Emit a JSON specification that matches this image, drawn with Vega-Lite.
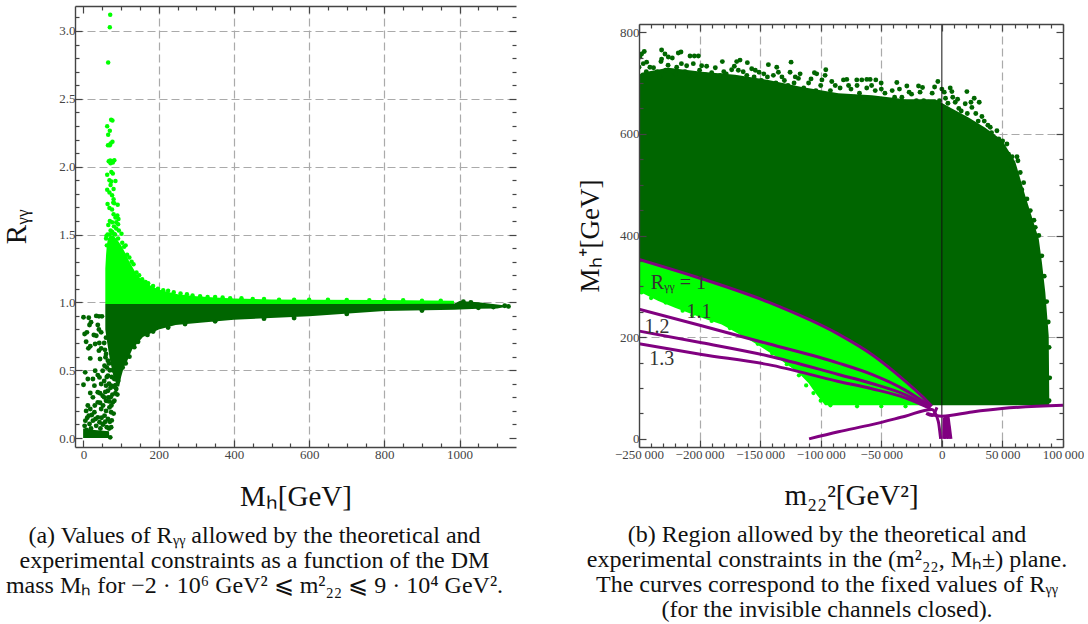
{
"$schema":"https://vega.github.io/schema/vega-lite/v6.json",
"background":"white",
"padding":{"left":2,"top":5,"right":0,"bottom":0},
"spacing":59,
"config":{"view":{"stroke":null},"font":"Liberation Serif","axis":{"labelFont":"Liberation Serif","titleFont":"Liberation Serif","titleFontWeight":"normal","labelFontSize":13,"labelColor":"#444","tickColor":"#444","domainColor":"#444","domainWidth":1.4,"tickWidth":1.2,"labelPadding":7,"labelOverlap":false,"labelBound":false,"labelFlush":false},"title":{"font":"Liberation Serif","fontWeight":"normal","fontSize":24,"color":"#111"}},
"datasets":{
"leftArea":[
{"g":"bright","mass":58,"r":0.987,"r2":1.25},{"g":"bright","mass":60,"r":0.987,"r2":1.35},{"g":"bright","mass":62,"r":0.987,"r2":1.42},{"g":"bright","mass":65,"r":0.987,"r2":1.47},{"g":"bright","mass":70,"r":0.987,"r2":1.49},{"g":"bright","mass":80,"r":0.987,"r2":1.49},{"g":"bright","mass":90,"r":0.987,"r2":1.46},{"g":"bright","mass":100,"r":0.987,"r2":1.42},{"g":"bright","mass":110,"r":0.987,"r2":1.37},{"g":"bright","mass":120,"r":0.987,"r2":1.31},{"g":"bright","mass":130,"r":0.987,"r2":1.26},{"g":"bright","mass":140,"r":0.987,"r2":1.21},{"g":"bright","mass":150,"r":0.987,"r2":1.18},{"g":"bright","mass":160,"r":0.987,"r2":1.16},{"g":"bright","mass":180,"r":0.987,"r2":1.12},{"g":"bright","mass":200,"r":0.987,"r2":1.095},{"g":"bright","mass":220,"r":0.987,"r2":1.08},{"g":"bright","mass":250,"r":0.987,"r2":1.06},{"g":"bright","mass":300,"r":0.987,"r2":1.045},{"g":"bright","mass":350,"r":0.987,"r2":1.035},{"g":"bright","mass":400,"r":0.987,"r2":1.028},{"g":"bright","mass":500,"r":0.987,"r2":1.021},{"g":"bright","mass":600,"r":0.987,"r2":1.02},{"g":"bright","mass":800,"r":0.987,"r2":1.017},{"g":"bright","mass":985,"r":0.987,"r2":1.011},
{"g":"dark","mass":58,"r":0.8,"r2":0.987},{"g":"dark","mass":62,"r":0.72,"r2":0.987},{"g":"dark","mass":70,"r":0.58,"r2":0.987},{"g":"dark","mass":80,"r":0.45,"r2":0.987},{"g":"dark","mass":90,"r":0.38,"r2":0.987},{"g":"dark","mass":95,"r":0.38,"r2":0.987},{"g":"dark","mass":100,"r":0.45,"r2":0.987},{"g":"dark","mass":108,"r":0.53,"r2":0.987},{"g":"dark","mass":115,"r":0.56,"r2":0.987},{"g":"dark","mass":130,"r":0.656,"r2":0.987},{"g":"dark","mass":158,"r":0.745,"r2":0.987},{"g":"dark","mass":200,"r":0.8,"r2":0.987},{"g":"dark","mass":245,"r":0.833,"r2":0.987},{"g":"dark","mass":310,"r":0.85,"r2":0.987},{"g":"dark","mass":400,"r":0.872,"r2":0.987},{"g":"dark","mass":600,"r":0.897,"r2":0.987},{"g":"dark","mass":800,"r":0.936,"r2":0.987},{"g":"dark","mass":985,"r":0.946,"r2":0.99},{"g":"dark","mass":1000,"r":0.948,"r2":1.01},{"g":"dark","mass":1050,"r":0.952,"r2":1.0},{"g":"dark","mass":1100,"r":0.955,"r2":0.985},{"g":"dark","mass":1128,"r":0.97,"r2":0.975},
{"g":"base","mass":-1,"r":0,"r2":0.07},{"g":"base","mass":30,"r":0,"r2":0.06},{"g":"base","mass":68,"r":0,"r2":0.05}
],
"leftBright":[
{"mass":71,"r":3.12},{"mass":70,"r":3.027},{"mass":65.6,"r":2.767},{"mass":73.5,"r":2.346},{"mass":77,"r":2.34},{"mass":63,"r":2.297},{"mass":70,"r":2.265},{"mass":65.6,"r":2.235},{"mass":77,"r":2.184},{"mass":72,"r":2.17},{"mass":65,"r":2.157},{"mass":70,"r":2.157},{"mass":67,"r":2.04},{"mass":71,"r":2.045},{"mass":76,"r":2.04},{"mass":82,"r":2.047},{"mass":72,"r":2.025},{"mass":78,"r":2.03},{"mass":74,"r":1.96},{"mass":63,"r":1.94},{"mass":78,"r":1.95},{"mass":69,"r":1.9},{"mass":85,"r":1.895},{"mass":74,"r":1.89},{"mass":72,"r":1.865},{"mass":80,"r":1.835},{"mass":63,"r":1.83},{"mass":69,"r":1.81},{"mass":76,"r":1.79},{"mass":80,"r":1.76},{"mass":64,"r":1.725},{"mass":79,"r":1.735},{"mass":91,"r":1.72},{"mass":82,"r":1.73},{"mass":69,"r":1.695},{"mass":76,"r":1.685},{"mass":80,"r":1.65},{"mass":90,"r":1.64},{"mass":85,"r":1.625},{"mass":93,"r":1.615},{"mass":70,"r":1.6},{"mass":76,"r":1.59},{"mass":87,"r":1.59},{"mass":92,"r":1.575},{"mass":66,"r":1.57},{"mass":81,"r":1.56},{"mass":72,"r":1.53},{"mass":87,"r":1.545},{"mass":94,"r":1.53},{"mass":101,"r":1.505},{"mass":81,"r":1.505},{"mass":61,"r":1.49},
{"mass":60,"r":1.47},{"mass":62,"r":1.42},{"mass":64,"r":1.5},{"mass":70,"r":1.5},{"mass":76,"r":1.52},{"mass":84,"r":1.5},{"mass":92,"r":1.47},{"mass":103,"r":1.44},{"mass":108,"r":1.41},{"mass":112,"r":1.42},{"mass":116,"r":1.35},{"mass":122,"r":1.33},{"mass":128,"r":1.3},{"mass":133,"r":1.28},{"mass":141,"r":1.22},{"mass":148,"r":1.2},{"mass":156,"r":1.17},{"mass":165,"r":1.15},{"mass":172,"r":1.14},{"mass":185,"r":1.12},{"mass":198,"r":1.1},{"mass":212,"r":1.09},{"mass":225,"r":1.085},{"mass":240,"r":1.075},{"mass":258,"r":1.065},{"mass":275,"r":1.06},{"mass":290,"r":1.05},{"mass":310,"r":1.045},{"mass":330,"r":1.04},{"mass":350,"r":1.04},{"mass":370,"r":1.035},{"mass":390,"r":1.03},{"mass":420,"r":1.03},{"mass":450,"r":1.025},{"mass":480,"r":1.025},{"mass":520,"r":1.02},{"mass":560,"r":1.02},{"mass":600,"r":1.02},{"mass":650,"r":1.02},{"mass":700,"r":1.018},{"mass":760,"r":1.015},{"mass":800,"r":1.015},{"mass":850,"r":1.015},{"mass":900,"r":1.012},{"mass":950,"r":1.012}
],
"leftDark":[
{"mass":0,"r":0.89},{"mass":14,"r":0.887},{"mass":34,"r":0.9},{"mass":41,"r":0.897},{"mass":49,"r":0.897},{"mass":20,"r":0.853},{"mass":16,"r":0.833},{"mass":38,"r":0.833},{"mass":3,"r":0.767},{"mass":9,"r":0.779},{"mass":27.5,"r":0.759},{"mass":34,"r":0.754},{"mass":41,"r":0.8},{"mass":47,"r":0.779},{"mass":7,"r":0.71},{"mass":31,"r":0.693},{"mass":18,"r":0.676},{"mass":13,"r":0.661},{"mass":42,"r":0.7},{"mass":47,"r":0.661},{"mass":41,"r":0.644},{"mass":18,"r":0.587},{"mass":44,"r":0.582},{"mass":58.5,"r":0.595},{"mass":65,"r":0.57},{"mass":56,"r":0.533},{"mass":4.5,"r":0.484},{"mass":31,"r":0.496},{"mass":38,"r":0.464},{"mass":51,"r":0.496},{"mass":11.5,"r":0.435},{"mass":0,"r":0.393},{"mass":25,"r":0.435},{"mass":42.5,"r":0.447},{"mass":65,"r":0.46},{"mass":29,"r":0.386},{"mass":47,"r":0.398},{"mass":60,"r":0.386},{"mass":82,"r":0.435},{"mass":73.5,"r":0.386},{"mass":18,"r":0.332},{"mass":38,"r":0.337},{"mass":87,"r":0.361},{"mass":25,"r":0.3},{"mass":51,"r":0.312},{"mass":65,"r":0.349},{"mass":82,"r":0.275},{"mass":11.5,"r":0.24},{"mass":38,"r":0.263},{"mass":60,"r":0.275},{"mass":78,"r":0.263},{"mass":7,"r":0.2},{"mass":18,"r":0.214},{"mass":29,"r":0.19},{"mass":47,"r":0.214},{"mass":69,"r":0.226},{"mass":14,"r":0.165},{"mass":38,"r":0.152},{"mass":56,"r":0.165},{"mass":73.5,"r":0.19},{"mass":5,"r":0.128},{"mass":25,"r":0.128},{"mass":42.5,"r":0.116},{"mass":65,"r":0.14},{"mass":73.5,"r":0.08},{"mass":71,"r":0.005},{"mass":3,"r":0.09},{"mass":16,"r":0.103},{"mass":33.7,"r":0.09},{"mass":51,"r":0.103},{"mass":62,"r":0.08},{"mass":75,"r":0.45},{"mass":78,"r":0.5},{"mass":70,"r":0.5},{"mass":85,"r":0.33},{"mass":90,"r":0.32},{"mass":72,"r":0.3},{"mass":80,"r":0.18},{"mass":70,"r":0.12},{"mass":55,"r":0.3},{"mass":60,"r":0.2},{"mass":66,"r":0.3},{"mass":62,"r":0.45},{"mass":68,"r":0.4},{"mass":92,"r":0.42},{"mass":57,"r":0.65},{"mass":60,"r":0.74},{"mass":52,"r":0.1},{"mass":8,"r":0.06},{"mass":20,"r":0.07},{"mass":45,"r":0.07},{"mass":62,"r":0.03},
{"mass":10,"r":0.15},{"mass":22,"r":0.17},{"mass":32,"r":0.14},{"mass":48,"r":0.15},{"mass":58,"r":0.12},{"mass":68,"r":0.07},{"mass":75,"r":0.13},{"mass":30,"r":0.24},{"mass":44,"r":0.26},{"mass":52,"r":0.24},{"mass":74,"r":0.24},{"mass":68,"r":0.27},{"mass":77,"r":0.32},{"mass":58,"r":0.34},{"mass":44,"r":0.33},{"mass":72,"r":0.37},{"mass":80,"r":0.38},{"mass":55,"r":0.42},{"mass":85,"r":0.39},{"mass":62,"r":0.52},{"mass":68,"r":0.55},{"mass":60,"r":0.62},{"mass":55,"r":0.7},
{"mass":104,"r":0.52},{"mass":112,"r":0.55},{"mass":122,"r":0.6},{"mass":135,"r":0.67},{"mass":145,"r":0.71},{"mass":170,"r":0.76},{"mass":185,"r":0.785},{"mass":225,"r":0.815},{"mass":270,"r":0.84},{"mass":350,"r":0.86},{"mass":480,"r":0.88},{"mass":560,"r":0.885},{"mass":700,"r":0.915},{"mass":900,"r":0.94},{"mass":1050,"r":0.96},{"mass":1090,"r":0.965},{"mass":1120,"r":0.975},{"mass":1130,"r":0.97},{"mass":1010,"r":1.005},{"mass":1030,"r":1.0}
],
"rightArea":[
{"g":"dark","m":-250000,"lo":353,"hi":715},{"g":"dark","m":-247850,"lo":352,"hi":720},{"g":"dark","m":-225820,"lo":335,"hi":730},{"g":"dark","m":-198280,"lo":315,"hi":722},{"g":"dark","m":-170740,"lo":292,"hi":716},{"g":"dark","m":-143200,"lo":269,"hi":706},{"g":"dark","m":-115660,"lo":240,"hi":692},{"g":"dark","m":-85400,"lo":206,"hi":680},{"g":"dark","m":-57810,"lo":166,"hi":676},{"g":"dark","m":-30270,"lo":113.6,"hi":668},{"g":"dark","m":-16500,"lo":84,"hi":668},{"g":"dark","m":-8240,"lo":66,"hi":668},{"g":"dark","m":-5500,"lo":66,"hi":668},{"g":"dark","m":8270,"lo":66,"hi":650},{"g":"dark","m":22040,"lo":66,"hi":632},{"g":"dark","m":35810,"lo":66,"hi":612},{"g":"dark","m":49580,"lo":66,"hi":588},{"g":"dark","m":60590,"lo":66,"hi":545},{"g":"dark","m":68850,"lo":66,"hi":478},{"g":"dark","m":77110,"lo":66,"hi":415},{"g":"dark","m":80000,"lo":66,"hi":393},{"g":"dark","m":82600,"lo":66,"hi":347},{"g":"dark","m":85400,"lo":66,"hi":288},{"g":"dark","m":88200,"lo":66,"hi":203},{"g":"dark","m":88700,"lo":66,"hi":70},
{"g":"bright","m":-250000,"lo":290,"hi":353},{"g":"bright","m":-234000,"lo":271,"hi":342},{"g":"bright","m":-220300,"lo":258,"hi":331},{"g":"bright","m":-198300,"lo":238,"hi":315},{"g":"bright","m":-181750,"lo":225,"hi":302},{"g":"bright","m":-159720,"lo":195.7,"hi":283},{"g":"bright","m":-145950,"lo":176,"hi":271},{"g":"bright","m":-137700,"lo":163,"hi":264},{"g":"bright","m":-118400,"lo":130,"hi":243},{"g":"bright","m":-110150,"lo":110,"hi":234},{"g":"bright","m":-103300,"lo":87,"hi":226},{"g":"bright","m":-96400,"lo":66,"hi":219},{"g":"bright","m":-85400,"lo":66,"hi":206},{"g":"bright","m":-57810,"lo":66,"hi":166},{"g":"bright","m":-30270,"lo":66,"hi":113.6},{"g":"bright","m":-16500,"lo":66,"hi":84},{"g":"bright","m":-9000,"lo":66,"hi":66}
],
"rightPts":[
{"m":-249230,"v":751},{"m":-247850,"v":757},{"m":-245650,"v":762},{"m":-250000,"v":731},{"m":-246475,"v":738},{"m":-243720,"v":741},{"m":-241000,"v":731},{"m":-231330,"v":765},{"m":-228575,"v":757},{"m":-231330,"v":747},{"m":-225820,"v":751},{"m":-222500,"v":749},{"m":-217560,"v":759},{"m":-215350,"v":761},{"m":-207900,"v":753},{"m":-204340,"v":753},{"m":-201000,"v":753},{"m":-210670,"v":734},{"m":-205170,"v":738},{"m":-198280,"v":734},{"m":-194150,"v":733},{"m":-218900,"v":731},{"m":-231880,"v":742},{"m":-181200,"v":742},{"m":-171300,"v":733},{"m":-169360,"v":742},{"m":-166600,"v":745},{"m":-173500,"v":726},{"m":-160550,"v":740},{"m":-156970,"v":728},{"m":-150900,"v":721},{"m":-143200,"v":736},{"m":-136300,"v":731},{"m":-134940,"v":721},{"m":-139070,"v":715},{"m":-124470,"v":741},{"m":-125300,"v":721},{"m":-117000,"v":718},{"m":-118400,"v":709},{"m":-105200,"v":720},{"m":-103300,"v":718},{"m":-95800,"v":726},{"m":-96380,"v":715},{"m":-90870,"v":703},{"m":-81230,"v":706},{"m":-78480,"v":707},{"m":-70220,"v":706},{"m":-66100,"v":706},{"m":-61960,"v":707},{"m":-59200,"v":707},{"m":-54520,"v":706},{"m":-50100,"v":700},{"m":-37170,"v":701},{"m":-28900,"v":694},{"m":-19270,"v":694},{"m":-15970,"v":691},{"m":-3300,"v":703},{"m":0,"v":688},{"m":6890,"v":690},{"m":8270,"v":683},{"m":20660,"v":683},{"m":26720,"v":670},{"m":30850,"v":662},{"m":11020,"v":662},{"m":19280,"v":659},{"m":24780,"v":652},{"m":33060,"v":634},{"m":38000,"v":617},{"m":39940,"v":613},{"m":45450,"v":606},{"m":50130,"v":586},{"m":53700,"v":580},{"m":62000,"v":555},{"m":62800,"v":547},{"m":57840,"v":537},{"m":64700,"v":524},{"m":67500,"v":504},{"m":70230,"v":472},{"m":73000,"v":449},{"m":77110,"v":416},
{"m":-240000,"v":715},{"m":-235000,"v":722},{"m":-228000,"v":725},{"m":-220000,"v":718},{"m":-212000,"v":722},{"m":-204000,"v":716},{"m":-190000,"v":720},{"m":-183000,"v":715},{"m":-178000,"v":718},{"m":-164000,"v":722},{"m":-155000,"v":712},{"m":-147000,"v":718},{"m":-130000,"v":705},{"m":-122000,"v":700},{"m":-110000,"v":700},{"m":-100000,"v":695},{"m":-92000,"v":685},{"m":-84000,"v":690},{"m":-75000,"v":688},{"m":-68000,"v":680},{"m":-62000,"v":690},{"m":-55000,"v":685},{"m":-47000,"v":680},{"m":-41000,"v":685},{"m":-33000,"v":672},{"m":-25000,"v":678},{"m":-15000,"v":665},{"m":-8000,"v":680},{"m":3000,"v":670},{"m":14000,"v":650},{"m":28000,"v":640},{"m":42000,"v":595},{"m":55000,"v":560},{"m":66000,"v":490},{"m":76000,"v":430},{"m":80000,"v":400},{"m":82500,"v":360},{"m":84500,"v":320},{"m":86500,"v":270},{"m":87800,"v":230},{"m":88500,"v":180},{"m":89000,"v":120},{"m":88500,"v":75},
{"m":-249000,"v":712},{"m":-244000,"v":722},{"m":-238000,"v":730},{"m":-233000,"v":712},{"m":-226000,"v":735},{"m":-222000,"v":722},{"m":-215000,"v":738},{"m":-209000,"v":716},{"m":-200000,"v":725},{"m":-195000,"v":716},{"m":-187000,"v":730},{"m":-180000,"v":722},{"m":-175000,"v":710},{"m":-168000,"v":725},{"m":-161000,"v":715},{"m":-154000,"v":725},{"m":-149000,"v":705},{"m":-144000,"v":712},{"m":-137000,"v":700},{"m":-132000,"v":712},{"m":-127000,"v":695},{"m":-121000,"v":712},{"m":-114000,"v":690},{"m":-108000,"v":708},{"m":-104000,"v":685},{"m":-99000,"v":706},{"m":-94000,"v":675},{"m":-88000,"v":695},{"m":-82000,"v":672},{"m":-77000,"v":695},{"m":-72000,"v":672},{"m":-70000,"v":695},{"m":-64000,"v":670},{"m":-58000,"v":695},{"m":-52000,"v":668},{"m":-50000,"v":688},{"m":-44000,"v":665},{"m":-39000,"v":672},{"m":-35000,"v":688},{"m":-30000,"v":662},{"m":-27000,"v":682},{"m":-21000,"v":665},{"m":-18000,"v":682},{"m":-11000,"v":662},{"m":-6000,"v":692},{"m":-2000,"v":665},{"m":2000,"v":682},{"m":5000,"v":660},{"m":9000,"v":672},{"m":13000,"v":668},{"m":16000,"v":645},{"m":21000,"v":640},{"m":24000,"v":662},{"m":30000,"v":625},{"m":35000,"v":625},{"m":41000,"v":602},{"m":47000,"v":590},{"m":52000,"v":565},{"m":58000,"v":555},{"m":60000,"v":530}
],
"rightBrightPts":[
{"m":-248000,"v":288},{"m":-240000,"v":277},{"m":-228000,"v":268},{"m":-214000,"v":252},{"m":-206000,"v":243},{"m":-190000,"v":232},{"m":-175000,"v":218},{"m":-165000,"v":206},{"m":-152000,"v":187},{"m":-140000,"v":168},{"m":-128000,"v":147},{"m":-118000,"v":125},{"m":-112000,"v":105},{"m":-106000,"v":90},{"m":-100000,"v":75},{"m":-92000,"v":66},{"m":-70000,"v":64},{"m":-50000,"v":64},{"m":-30000,"v":64}
],
"curves":[
{"c":"1","m":-250000,"v":353},{"c":"1","m":-198280,"v":315},{"c":"1","m":-143200,"v":269},{"c":"1","m":-85400,"v":206},{"c":"1","m":-57810,"v":166},{"c":"1","m":-30270,"v":113.6},{"c":"1","m":-16500,"v":84},{"c":"1","m":-8240,"v":64},
{"c":"1.1","m":-250000,"v":254.8},{"c":"1.1","m":-198280,"v":222.5},{"c":"1.1","m":-143200,"v":187},{"c":"1.1","m":-85400,"v":149},{"c":"1.1","m":-57810,"v":126.7},{"c":"1.1","m":-30270,"v":95.8},{"c":"1.1","m":-9600,"v":64},
{"c":"1.2","m":-250000,"v":212},{"c":"1.2","m":-198280,"v":189},{"c":"1.2","m":-143200,"v":163},{"c":"1.2","m":-85400,"v":126.7},{"c":"1.2","m":-57810,"v":109},{"c":"1.2","m":-30270,"v":87},{"c":"1.2","m":-9600,"v":61},
{"c":"1.3","m":-250000,"v":187},{"c":"1.3","m":-198280,"v":166},{"c":"1.3","m":-143200,"v":146},{"c":"1.3","m":-85400,"v":113},{"c":"1.3","m":-57810,"v":98.5},{"c":"1.3","m":-30270,"v":80.7},{"c":"1.3","m":-9600,"v":59.7},
{"c":"low","m":-109600,"v":0},{"c":"low","m":-85350,"v":14},{"c":"low","m":-57810,"v":28},{"c":"low","m":-30270,"v":44.6},{"c":"low","m":-8240,"v":58},{"c":"low","m":-3000,"v":35},{"c":"low","m":-1000,"v":0},
{"c":"up","m":-12000,"v":50},{"c":"up","m":0,"v":44.6},{"c":"up","m":24800,"v":53},{"c":"up","m":49600,"v":59.7},{"c":"up","m":100000,"v":66},
{"c":"f1","m":1500,"v":0},{"c":"f1","m":1800,"v":42},
{"c":"f2","m":3000,"v":43},{"c":"f2","m":3500,"v":0},
{"c":"f3","m":4200,"v":44},{"c":"f3","m":5500,"v":0},
{"c":"f4","m":5000,"v":46},{"c":"f4","m":7500,"v":0},
{"c":"k","m":-13000,"v":50},{"c":"k","m":-8000,"v":46},{"c":"k","m":-4000,"v":62}
],
"labels":[
{"m":-217560,"v":307,"t":"Rᵧᵧ = 1"},{"m":-200500,"v":249,"t":"1.1"},{"m":-235180,"v":220,"t":"1.2"},{"m":-231300,"v":158,"t":"1.3"}
],
"zero":[{"m":0}]
},
"hconcat":[
{"width":441,"height":441,
"title":{"text":["(a) Values of Rᵧᵧ allowed by the theoretical and","experimental constraints as a function of the DM","mass Mₕ for −2 · 10⁶ GeV² ⩽ m²₂₂ ⩽ 9 · 10⁴ GeV²."],"orient":"bottom","anchor":"middle","dx":-41,"lineHeight":25,"fontSize":24,"offset":13},
"resolve":{"axis":{"x":"independent","y":"independent"}},
"layer":[
{"data":{"name":"leftArea"},"mark":{"type":"area","clip":true,"stroke":null},
"encoding":{
"x":{"field":"mass","type":"quantitative","scale":{"domain":[-22.6,1150],"nice":false,"zero":false},"axis":{"orient":"bottom","title":null,"values":[200,400,600,800,1000],"grid":true,"gridColor":"#aaa","gridDash":[8,4],"gridWidth":1.2,"labels":false,"ticks":false,"domain":false,"zindex":0}},
"y":{"field":"r","type":"quantitative","stack":null,"scale":{"domain":[-0.066,3.184],"nice":false,"zero":false},"axis":{"orient":"left","title":null,"values":[0.5,1,1.5,2,2.5,3],"grid":true,"gridColor":"#aaa","gridDash":[8,4],"gridWidth":1.2,"labels":false,"ticks":false,"domain":false,"zindex":0}},
"y2":{"field":"r2"},
"color":{"field":"g","type":"nominal","legend":null,"scale":{"domain":["bright","dark","base"],"range":["#00ff00","#006600","#006600"]}}
}},
{"data":{"name":"leftBright"},"mark":{"type":"circle","size":20,"opacity":1,"color":"#00ff00"},
"encoding":{
"x":{"field":"mass","type":"quantitative","scale":{"domain":[-22.6,1150],"nice":false,"zero":false},"axis":{"orient":"bottom","title":"Mₕ[GeV]","titleFontSize":29,"titleColor":"#111","titlePadding":18,"values":[0,50,100,150,200,250,300,350,400,450,500,550,600,650,700,750,800,850,900,950,1000,1050,1100],"labelExpr":"datum.value % 200 === 0 ? datum.value : ''","tickSize":{"condition":{"test":"datum.value % 200 === 0","value":-7},"value":-4},"labelPadding":8,"zindex":1,"grid":false}},
"y":{"field":"r","type":"quantitative","scale":{"domain":[-0.066,3.184],"nice":false,"zero":false},"axis":{"orient":"left","title":"Rᵧᵧ","titleFontSize":29,"titleColor":"#111","titlePadding":27,"values":[0,0.1,0.2,0.3,0.4,0.5,0.6,0.7,0.8,0.9,1,1.1,1.2,1.3,1.4,1.5,1.6,1.7,1.8,1.9,2,2.1,2.2,2.3,2.4,2.5,2.6,2.7,2.8,2.9,3,3.1],"format":".1f","labelExpr":"abs(datum.value*2-round(datum.value*2))<1e-6 ? format(datum.value,'.1f') : ''","tickSize":{"condition":{"test":"abs(datum.value*2-round(datum.value*2))<1e-6","value":-7},"value":-4},"zindex":1,"grid":false}}
}},
{"data":{"name":"leftDark"},"mark":{"type":"circle","size":24,"opacity":1,"color":"#006600"},
"encoding":{
"x":{"field":"mass","type":"quantitative","scale":{"domain":[-22.6,1150],"nice":false,"zero":false},"axis":{"orient":"top","title":null,"labels":false,"values":[0,50,100,150,200,250,300,350,400,450,500,550,600,650,700,750,800,850,900,950,1000,1050,1100],"tickSize":{"condition":{"test":"datum.value % 200 === 0","value":-7},"value":-4},"zindex":1,"grid":false}},
"y":{"field":"r","type":"quantitative","scale":{"domain":[-0.066,3.184],"nice":false,"zero":false},"axis":{"orient":"right","title":null,"labels":false,"domain":false,"values":[0,0.1,0.2,0.3,0.4,0.5,0.6,0.7,0.8,0.9,1,1.1,1.2,1.3,1.4,1.5,1.6,1.7,1.8,1.9,2,2.1,2.2,2.3,2.4,2.5,2.6,2.7,2.8,2.9,3,3.1],"tickSize":{"condition":{"test":"abs(datum.value*2-round(datum.value*2))<1e-6","value":-7},"value":-4},"zindex":1,"grid":false}}
}}
]},
{"spacing":0,"vconcat":[
{"width":424,"height":17,"data":{"values":[{"m":0}]},"mark":{"type":"rule","opacity":0},"encoding":{}},
{"width":424,"height":423,
"title":{"text":["(b) Region allowed by the theoretical and","experimental constraints in the (m²₂₂, Mₕ±) plane.","The curves correspond to the fixed values of Rᵧᵧ","(for the invisible channels closed)."],"orient":"bottom","anchor":"middle","dx":-24,"lineHeight":25,"fontSize":24,"offset":13},
"resolve":{"axis":{"x":"independent","y":"independent"}},
"layer":[
{"data":{"name":"rightArea"},"mark":{"type":"area","clip":true,"stroke":null},
"encoding":{
"x":{"field":"m","type":"quantitative","scale":{"domain":[-250000,100000],"nice":false,"zero":false},"axis":{"orient":"bottom","title":null,"values":[-200000,-150000,-100000,-50000,50000],"grid":true,"gridColor":"#aaa","gridDash":[8,4],"gridWidth":1.2,"labels":false,"ticks":false,"domain":false,"zindex":0}},
"y":{"field":"lo","type":"quantitative","stack":null,"scale":{"domain":[-16,816],"nice":false,"zero":false},"axis":{"orient":"left","title":null,"values":[200,400,600],"grid":true,"gridColor":"#aaa","gridDash":[8,4],"gridWidth":1.2,"labels":false,"ticks":false,"domain":false,"zindex":0}},
"y2":{"field":"hi"},
"color":{"field":"g","type":"nominal","legend":null,"scale":{"domain":["bright","dark"],"range":["#00ff00","#006600"]}}
}},
{"data":{"name":"rightPts"},"mark":{"type":"circle","size":24,"opacity":1,"color":"#006600","clip":true},
"encoding":{
"x":{"field":"m","type":"quantitative","scale":{"domain":[-250000,100000],"nice":false,"zero":false},"axis":{"orient":"bottom","title":"m₂₂²[GeV²]","titleFontSize":29,"titleColor":"#111","titlePadding":17,"values":[-250000,-240000,-230000,-220000,-210000,-200000,-190000,-180000,-170000,-160000,-150000,-140000,-130000,-120000,-110000,-100000,-90000,-80000,-70000,-60000,-50000,-40000,-30000,-20000,-10000,0,10000,20000,30000,40000,50000,60000,70000,80000,90000,100000],"labelExpr":"datum.value % 50000 === 0 ? replace(format(datum.value,','),',','\u2009') : ''","tickSize":{"condition":{"test":"datum.value % 50000 === 0","value":-7},"value":-4},"labelPadding":8,"zindex":1,"grid":false}},
"y":{"field":"v","type":"quantitative","scale":{"domain":[-16,816],"nice":false,"zero":false},"axis":{"orient":"left","title":"Mₕ⁺[GeV]","titleFontSize":27,"titleColor":"#111","titlePadding":15,"values":[0,50,100,150,200,250,300,350,400,450,500,550,600,650,700,750,800],"labelExpr":"datum.value % 200 === 0 ? datum.value : ''","tickSize":{"condition":{"test":"datum.value % 200 === 0","value":-7},"value":-4},"zindex":1,"grid":false}}
}},
{"data":{"name":"rightBrightPts"},"mark":{"type":"circle","size":18,"opacity":1,"color":"#00ff00","clip":true},
"encoding":{"x":{"field":"m","type":"quantitative","axis":null},"y":{"field":"v","type":"quantitative","axis":null}}},
{"data":{"name":"zero"},"mark":{"type":"rule","color":"#111","strokeWidth":1},
"encoding":{"x":{"field":"m","type":"quantitative","axis":null}}},
{"data":{"name":"curves"},"mark":{"type":"line","color":"#800080","interpolate":"monotone","clip":true},
"encoding":{
"x":{"field":"m","type":"quantitative","scale":{"domain":[-250000,100000],"nice":false,"zero":false},"axis":{"orient":"top","title":null,"labels":false,"values":[-250000,-240000,-230000,-220000,-210000,-200000,-190000,-180000,-170000,-160000,-150000,-140000,-130000,-120000,-110000,-100000,-90000,-80000,-70000,-60000,-50000,-40000,-30000,-20000,-10000,0,10000,20000,30000,40000,50000,60000,70000,80000,90000,100000],"tickSize":{"condition":{"test":"datum.value % 50000 === 0","value":-7},"value":-4},"zindex":1,"grid":false}},
"y":{"field":"v","type":"quantitative","scale":{"domain":[-16,816],"nice":false,"zero":false},"axis":{"orient":"right","title":null,"labels":false,"values":[0,50,100,150,200,250,300,350,400,450,500,550,600,650,700,750,800],"tickSize":{"condition":{"test":"datum.value % 200 === 0","value":-7},"value":-4},"zindex":1,"grid":false}},
"detail":{"field":"c"},
"strokeWidth":{"field":"c","type":"nominal","legend":null,"scale":{"domain":["1","1.1","1.2","1.3","low","up","f1","f2","f3","f4","k"],"range":[3,3,3,3,5,3.5,2.5,2.5,2.5,2.5,4]}}
}},
{"data":{"name":"labels"},"mark":{"type":"text","fontSize":20,"color":"#333","font":"Liberation Serif"},
"encoding":{"x":{"field":"m","type":"quantitative","axis":null},"y":{"field":"v","type":"quantitative","axis":null},"text":{"field":"t"}}}
]}
]}
]
}
